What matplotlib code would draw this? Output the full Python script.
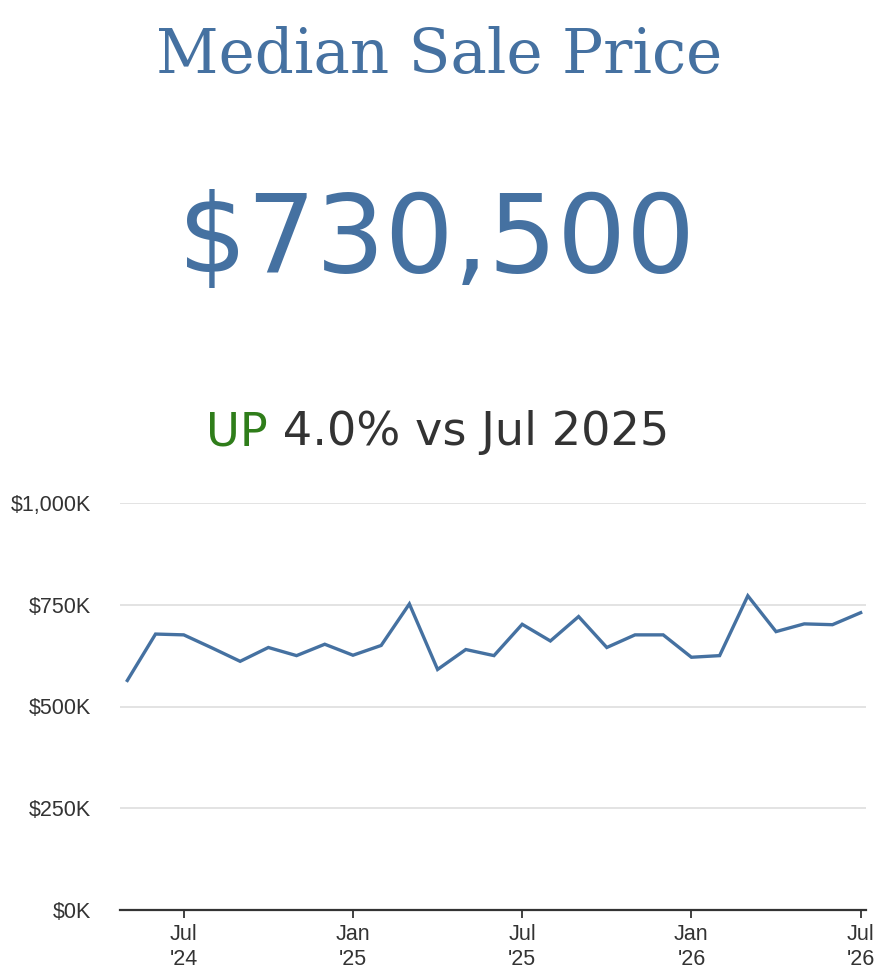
import matplotlib
matplotlib.use("Agg")
import matplotlib.pyplot as plt
from matplotlib.ticker import FuncFormatter

months = ["2024-05", "2024-06", "2024-07", "2024-08", "2024-09", "2024-10", "2024-11",
          "2024-12", "2025-01", "2025-02", "2025-03", "2025-04", "2025-05", "2025-06",
          "2025-07", "2025-08", "2025-09", "2025-10", "2025-11", "2025-12", "2026-01",
          "2026-02", "2026-03", "2026-04", "2026-05", "2026-06", "2026-07"]
median_price_k = [564, 678, 676, 644, 611, 645, 625, 653, 626, 650, 752, 591, 640, 625,
                  702, 661, 721, 645, 676, 676, 621, 625, 772, 684, 703, 701, 730.5]
tick_months = ["2024-07", "2025-01", "2025-07", "2026-01", "2026-07"]
tick_labels = ["Jul\n'24", "Jan\n'25", "Jul\n'25", "Jan\n'26", "Jul\n'26"]
y_ticks = [0, 250, 500, 750, 1000]

title = "Median Sale Price"
headline = "$730,500"
change_word = "UP"
change_rest = " 4.0% vs Jul 2025"

BLUE = "#4571a1"
GREEN = "#2f7d1a"
DARK = "#333333"

W, H = 886, 974
fig = plt.figure(figsize=(W / 100, H / 100), dpi=100)

# axes placement in pixels
left, right, top, bottom = 120, 866, 503, 910
ax = fig.add_axes([left / W, 1 - bottom / H, (right - left) / W, (bottom - top) / H])

x = list(range(len(months)))
ax.plot(x, median_price_k, color=BLUE, lw=2.4, solid_joinstyle="miter")

ax.set_ylim(0, 1000)
ax.set_xlim(-0.26, len(months) - 1 + 0.19)
ax.set_yticks(y_ticks)
ax.yaxis.set_major_formatter(FuncFormatter(lambda v, p: f"${int(v):,}K"))
ax.set_xticks([months.index(m) for m in tick_months])
ax.set_xticklabels(tick_labels, linespacing=1.25)

ax.grid(axis="y", color="#e3e3e3", lw=1.4)
ax.set_axisbelow(True)
for s in ["top", "right", "left"]:
    ax.spines[s].set_visible(False)
ax.spines["bottom"].set_color(DARK)
ax.spines["bottom"].set_linewidth(1.6)
ax.tick_params(axis="y", length=0, pad=21, labelsize=15.5, labelcolor=DARK)
ax.tick_params(axis="x", length=6, width=1.3, color=DARK, pad=4, labelsize=15.5, labelcolor=DARK)
for lab in ax.get_xticklabels() + ax.get_yticklabels():
    lab.set_fontfamily("Liberation Sans")

# Title texts
fig.text(439 / W, 1 - 73 / H, title, ha="center", va="baseline", color=BLUE,
         fontsize=44, fontfamily="DejaVu Serif")
fig.text(437 / W, 1 - 272 / H, headline, ha="center", va="baseline", color=BLUE,
         fontsize=78, fontfamily="DejaVu Sans")

# change line: two colors
t1 = fig.text(0, 0, change_word, color=GREEN, fontsize=33.3, fontfamily="DejaVu Sans", va="baseline")
t2 = fig.text(0, 0, change_rest, color=DARK, fontsize=33.3, fontfamily="DejaVu Sans", va="baseline")
fig.canvas.draw()
r = fig.canvas.get_renderer()
w1 = t1.get_window_extent(r).width
w2 = t2.get_window_extent(r).width
total = w1 + w2
x0 = 438 - total / 2
base_y = 445
t1.set_position((x0 / W, 1 - base_y / H))
t2.set_position(((x0 + w1) / W, 1 - base_y / H))

fig.savefig("out.png", dpi=100)
